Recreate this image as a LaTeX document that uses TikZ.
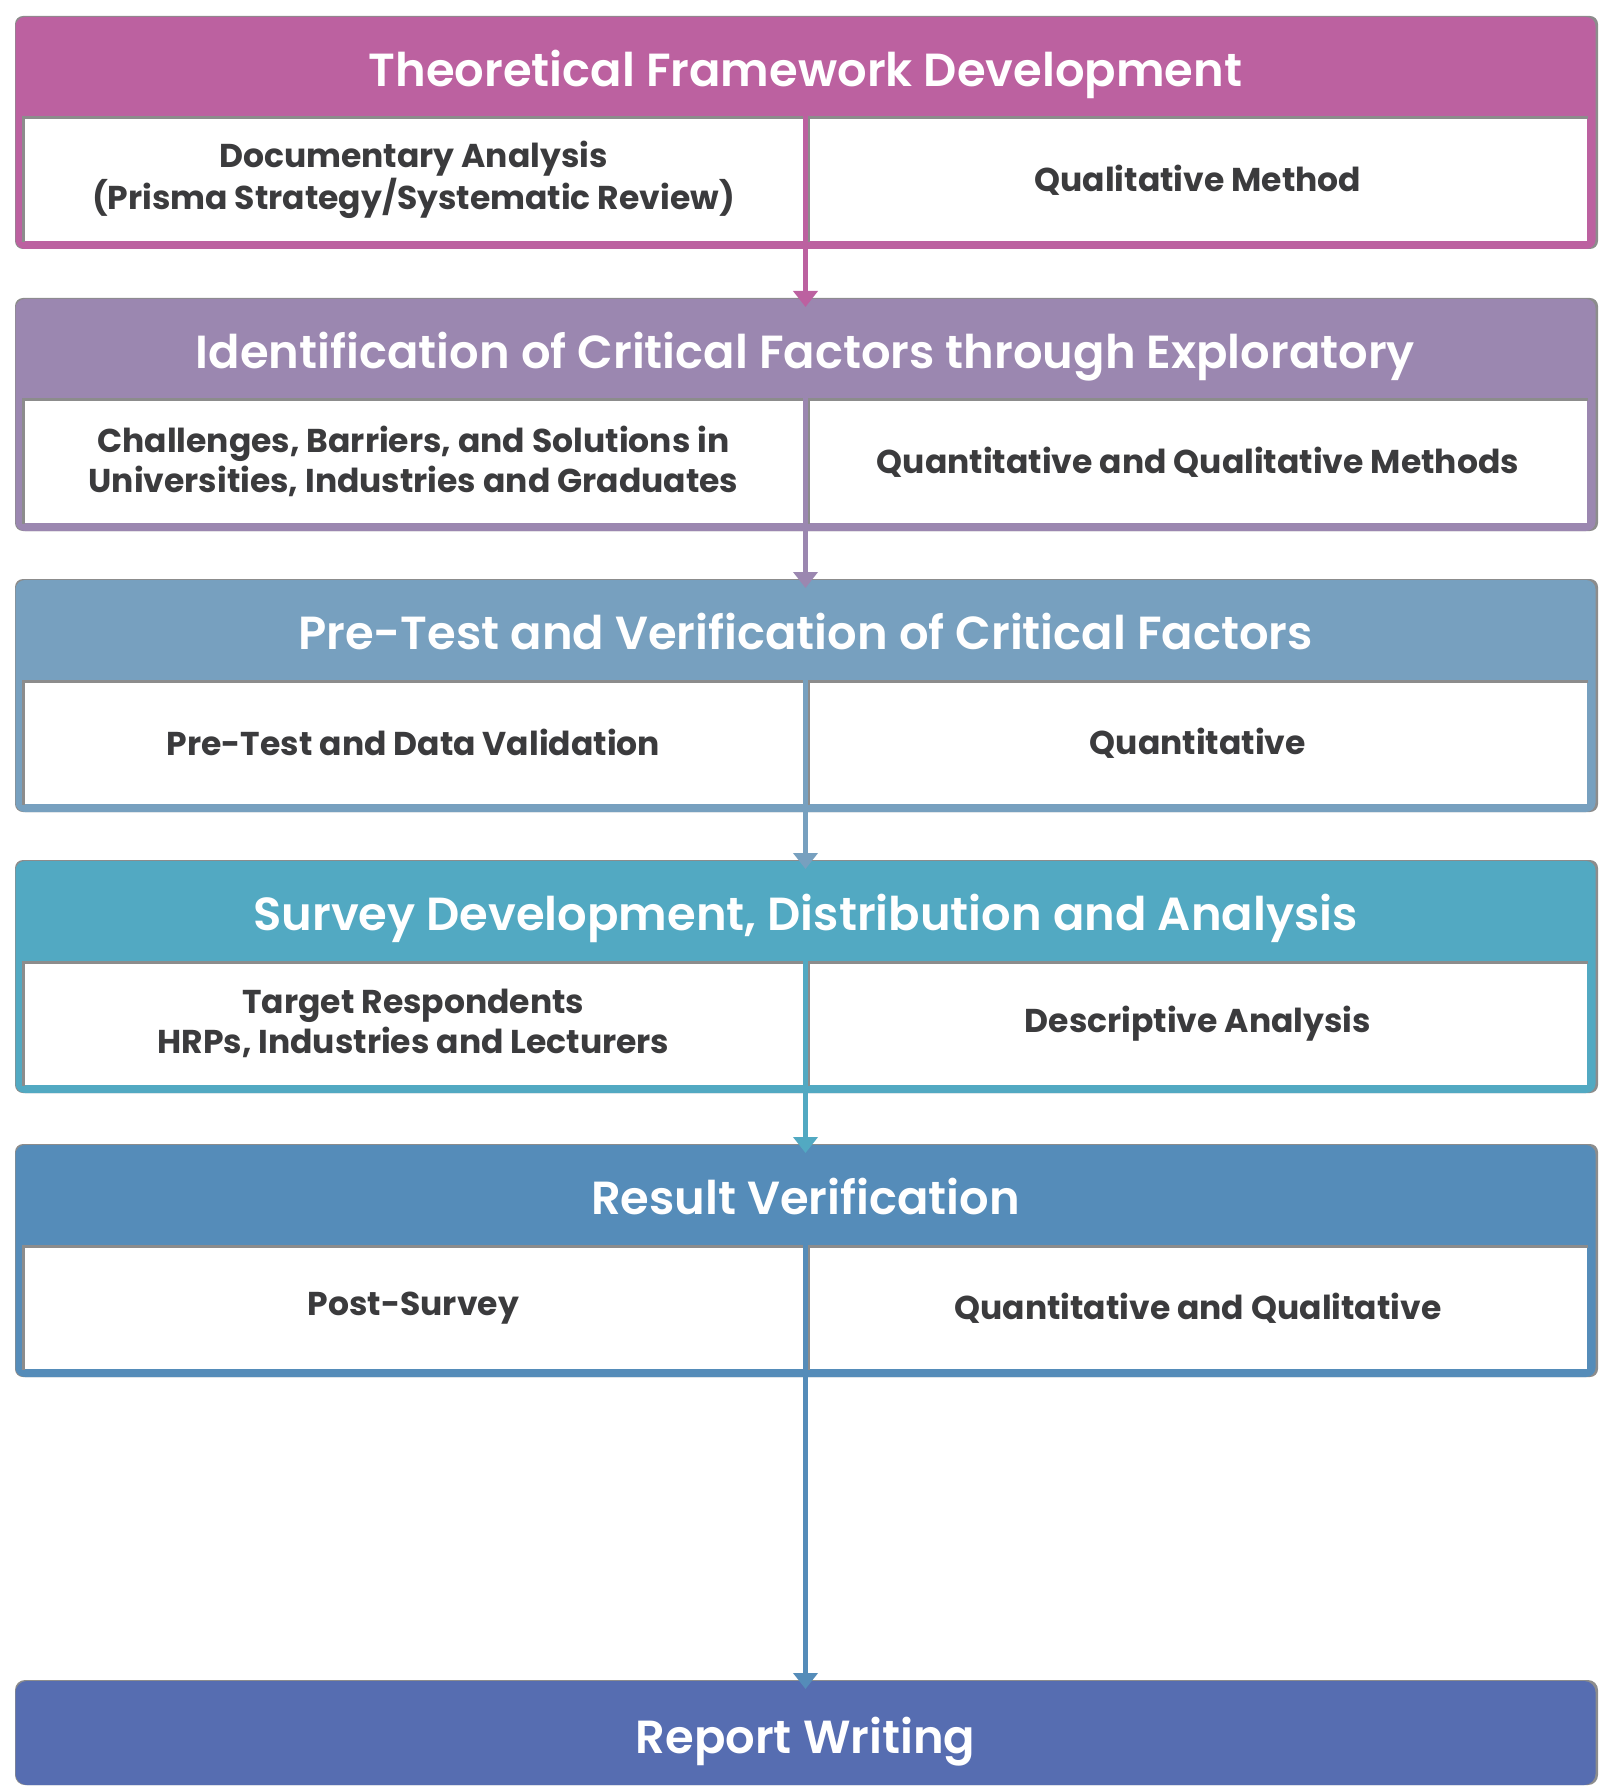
\documentclass[tikz,border=0pt]{standalone}
\usepackage{fontspec}
\setmainfont{Poppins}
\newfontfamily\headfont{Poppins SemiBold}
\usetikzlibrary{arrows.meta}

\definecolor{cA}{HTML}{BC61A0}
\definecolor{cB}{HTML}{9B87B0}
\definecolor{cC}{HTML}{77A0BF}
\definecolor{cD}{HTML}{52A9C2}
\definecolor{cE}{HTML}{558CB9}
\definecolor{cF}{HTML}{566DB1}
\definecolor{ink}{HTML}{3B3B3D}
\definecolor{rimgray}{HTML}{8C8C8C}

\tikzset{
  frame/.style={rectangle, anchor=north, minimum width=788.5pt, minimum height=114.5pt,
    rounded corners=4pt, line width=1.5pt, inner sep=0pt},
  band/.style={rectangle, anchor=north, minimum width=788.5pt, minimum height=48.5pt,
    inner sep=0pt, text height=21pt, text depth=0pt, text=white,
    font=\headfont\fontsize{23.2}{27}\selectfont},
  cell/.style={rectangle, anchor=north west, fill=white, minimum width=390pt,
    minimum height=61.5pt, inner sep=0pt, text=ink, align=center,
    font=\bfseries\fontsize{16.5}{20}\selectfont},
  rim/.style={draw=rimgray, line width=1.5pt},
  link/.style={line width=2.5pt, -{Triangle[width=12pt,length=8pt]}, shorten >=-4pt},
}

% one phase: #1 name, #2 top edge (px), #3 colour, #4 title, #5 left cell, #6 right cell
\newcommand{\phase}[6]{%
  \fill[rimgray, rounded corners=4pt] (15,#2-1) rectangle (1598,#2+232);
  \node[frame, fill=#3, draw=#3] (f#1) at (805.5,#2) {};
  \node[band] (h#1) at (805.5,#2) {#4};
  \node[cell] (l#1) at (23,#2+101) {#5};
  \node[cell, minimum width=389.5pt] (r#1) at (808,#2+101) {#6};
  \draw[rim] (l#1.south west) -- (l#1.north west) -- (l#1.north east);
  \draw[rim] (r#1.south west) -- (r#1.north west) -- (r#1.north east);
}

\begin{document}
\begin{tikzpicture}[x=0.5pt,y=-0.5pt]
  \useasboundingbox (0,0) rectangle (1614,1791);

  \phase{1}{17}{cA}{Theoretical Framework Development}
    {Documentary Analysis\\(Prisma Strategy/Systematic Review)}
    {Qualitative Method}
  \phase{2}{299}{cB}{Identification of Critical Factors through Exploratory}
    {Challenges, Barriers, and Solutions in\\Universities, Industries and Graduates}
    {Quantitative and Qualitative Methods}
  \phase{3}{580}{cC}{Pre-Test and Verification of Critical Factors}
    {Pre-Test and Data Validation}
    {Quantitative}
  \phase{4}{861}{cD}{Survey Development, Distribution and Analysis}
    {Target Respondents\\HRPs, Industries and Lecturers}
    {Descriptive Analysis}
  \phase{5}{1145}{cE}{Result Verification}
    {Post-Survey}
    {Quantitative and Qualitative}

  % closing phase
  \fill[rimgray, rounded corners=5pt] (15,1680) rectangle (1598,1785);
  \node[frame, fill=cF, draw=cF, minimum height=50.5pt, rounded corners=5pt] (f6) at (805.5,1681) {};
  \node[band, anchor=center, text height=20pt] (h6) at (f6.center) {Report Writing};

  % connectors between phases
  \draw[link, cA] (h1.south) -- (f2.north);
  \draw[link, cB] (h2.south) -- (f3.north);
  \draw[link, cC] (h3.south) -- (f4.north);
  \draw[link, cD] (h4.south) -- (f5.north);
  \draw[link, cE] (h5.south) -- (f6.north);
\end{tikzpicture}
\end{document}
